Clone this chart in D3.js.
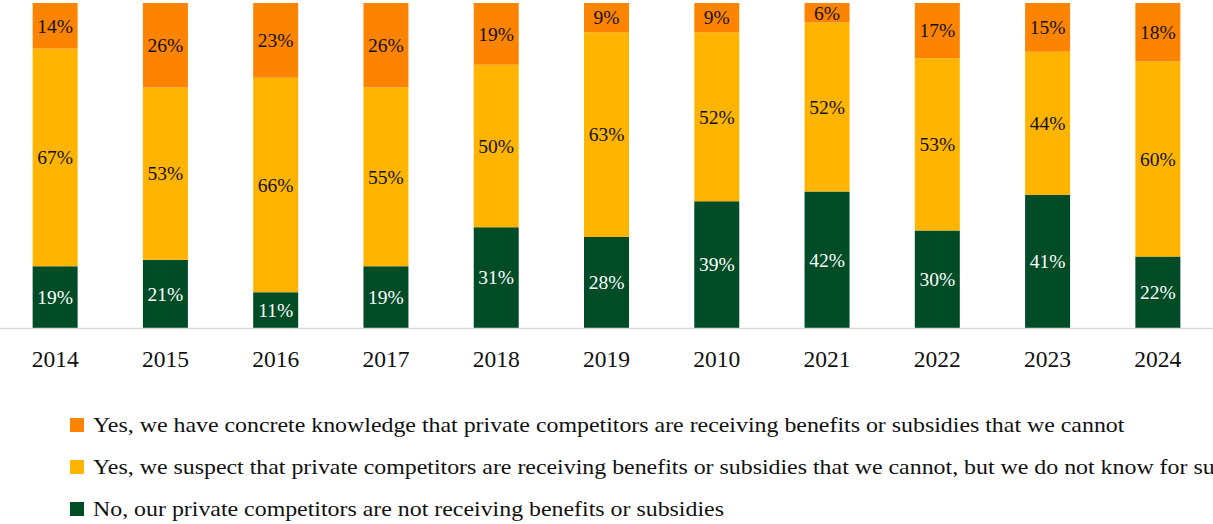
<!DOCTYPE html>
<html>
<head>
<meta charset="utf-8">
<script src="https://cdn.jsdelivr.net/npm/d3@7"></script>
<style>
  html, body { margin: 0; padding: 0; background: #ffffff; }
  svg { display: block; }
  text { font-family: "Liberation Serif", "DejaVu Serif", serif; }
</style>
</head>
<body>
<svg id="chart" width="1213" height="524"></svg>
<script>
// Survey years, in the order they appear along the axis
const years = ["2014", "2015", "2016", "2017", "2018", "2019", "2010", "2021", "2022", "2023", "2024"];

// Share of respondents per answer (percent)
const noBenefits = [19, 21, 11, 19, 31, 28, 39, 42, 30, 41, 22];
const suspectBenefits = [67, 53, 66, 55, 50, 63, 52, 52, 53, 44, 60];
const knownBenefits = [14, 26, 23, 26, 19, 9, 9, 6, 17, 15, 18];

const seriesNames = [
  "No, our private competitors are not receiving benefits or subsidies",
  "Yes, we suspect that private competitors are receiving benefits or subsidies that we cannot, but we do not know for sure",
  "Yes, we have concrete knowledge that private competitors are receiving benefits or subsidies that we cannot"
];
const seriesColors = ["#004c26", "#ffb500", "#fd8400"];
const labelColors = ["#ffffff", "#111111", "#111111"];

const seriesValues = [noBenefits, suspectBenefits, knownBenefits];

const rows = years.map((y, i) => {
  const r = { year: y };
  seriesValues.forEach((vals, s) => { r["s" + s] = vals[i]; });
  return r;
});
const keys = seriesValues.map((_, s) => "s" + s);
const stacked = d3.stack().keys(keys)(rows);

const svg = d3.select("#chart");
const width = 1213;
const baseY = 328;
const topY = 3;

const x = d3.scaleBand().domain(years).range([0, width]).paddingInner(0.592).paddingOuter(0.296);
const y = d3.scaleLinear().domain([0, 100]).range([baseY, topY]);

// Stacked bars
const layers = svg.append("g").selectAll("g")
  .data(stacked)
  .join("g")
  .attr("fill", (d, i) => seriesColors[i]);

layers.selectAll("rect")
  .data(d => d)
  .join("rect")
  .attr("x", d => x(d.data.year))
  .attr("width", x.bandwidth())
  .attr("y", d => y(d[1]))
  .attr("height", d => y(d[0]) - y(d[1]));

// Value labels centred in each segment
layers.each(function (layer, i) {
  d3.select(this).selectAll("text")
    .data(layer)
    .join("text")
    .attr("x", d => x(d.data.year) + x.bandwidth() / 2)
    .attr("y", d => (y(d[0]) + y(d[1])) / 2)
    .attr("dy", "0.35em")
    .attr("text-anchor", "middle")
    .attr("font-size", 19.5)
    .attr("fill", labelColors[i])
    .text(d => (d[1] - d[0]) + "%");
});

// Category axis
const axis = svg.append("g")
  .attr("transform", `translate(0,${baseY})`)
  .call(d3.axisBottom(x).tickSize(0).tickPadding(22));
axis.select(".domain").attr("stroke", "#d9d9d9").attr("stroke-width", 1.5)
  .attr("d", `M0,0.5H${width}`);
axis.selectAll(".tick text")
  .attr("font-size", 23.5)
  .attr("font-family", "'Liberation Serif', serif")
  .attr("fill", "#111111");

// Legend
const legendOrder = [2, 1, 0];
const legend = svg.append("g").selectAll("g")
  .data(legendOrder)
  .join("g")
  .attr("transform", (s, i) => `translate(70,${418 + i * 42})`);

legend.append("rect")
  .attr("width", 14)
  .attr("height", 14)
  .attr("fill", s => seriesColors[s]);

legend.append("text")
  .attr("x", 23)
  .attr("y", 14)
  .attr("font-size", 21.5)
  .attr("fill", "#111111")
  .text(s => seriesNames[s])
  .each(function () {
    // widen the entries slightly for a looser, book-style setting
    const len = this.getComputedTextLength();
    d3.select(this)
      .attr("textLength", len * 1.11)
      .attr("lengthAdjust", "spacingAndGlyphs");
  });
</script>
</body>
</html>
